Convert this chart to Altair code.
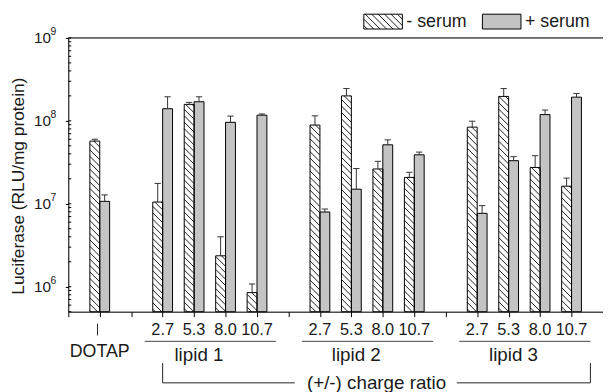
import math
import altair as alt
import pandas as pd

# ---------------- data ----------------
groups = ["DOTAP", "lipid 1", "lipid 2", "lipid 3"]
ratios = ["2.7", "5.3", "8.0", "10.7"]
minus_serum = [5.7e7, 1.05e7, 1.58e8, 2.36e6, 8.5e5, 8.9e7, 2.0e8, 2.63e7, 2.08e7, 8.4e7, 1.97e8, 2.74e7, 1.63e7]
minus_upper = [6.0e7, 1.76e7, 1.67e8, 4.0e6, 1.08e6, 1.15e8, 2.45e8, 3.25e7, 2.4e7, 9.9e7, 2.45e8, 3.8e7, 2.04e7]
plus_serum = [1.07e7, 1.40e8, 1.70e8, 9.6e7, 1.17e8, 7.96e6, 1.50e7, 5.14e7, 3.9e7, 7.67e6, 3.31e7, 1.19e8, 1.93e8]
plus_upper = [1.28e7, 1.95e8, 1.95e8, 1.14e8, 1.21e8, 8.65e6, 2.66e7, 5.9e7, 4.2e7, 9.5e6, 3.7e7, 1.35e8, 2.14e8]
series_names = ["- serum", "+ serum"]
decades = [6, 7, 8, 9]
y_title = "Luciferase (RLU/mg protein)"
x_title = "(+/-) charge ratio"

# ---------------- layout helpers ----------------
W, H = 541, 277
NX = 17
YMIN = 5e5
LMIN, LMAX = math.log10(YMIN), 9.0
OX, OY = 69, 36  # page position of plot origin
FONT = "Liberation Sans"
TXT = "#1a1a1a"
BW = 10 / (W / NX)  # bar width in slot units


def px_x(i):
    return OX + i * W / NX


def px_y(v):
    return OY + (LMAX - math.log10(v)) / (LMAX - LMIN) * H


def ix(px):
    return (px - OX) / W * NX


def yv(py):
    return 10 ** (LMAX - (py - OY) / H * (LMAX - LMIN))


def hatch(L, R, T, B, s=6.5):
    segs = []
    c = math.floor((T - R) / s) * s
    while c <= B - L:
        x1 = max(L, T - c)
        x2 = min(R, B - c)
        if x2 - x1 > 0.3:
            segs.append((ix(x1), yv(x1 + c), ix(x2), yv(x2 + c)))
        c += s
    return segs


# category positions: one empty slot between groups
idx, cat_lab, cat_grp = [], [], []
pos = 1
idx.append(pos); cat_lab.append(""); cat_grp.append(groups[0])
pos += 2
for g in groups[1:]:
    for r in ratios:
        idx.append(pos); cat_lab.append(r); cat_grp.append(g)
        pos += 1
    pos += 1

rows = []
for i, m, mu, p, pu in zip(idx, minus_serum, minus_upper, plus_serum, plus_upper):
    rows.append(dict(series=series_names[0], x0=i - BW, x1=i, xc=i - BW / 2, value=m, upper=mu))
    rows.append(dict(series=series_names[1], x0=i, x1=i + BW, xc=i + BW / 2, value=p, upper=pu))
bars = pd.DataFrame(rows)
bars["c0"] = bars["xc"] - 0.1
bars["c1"] = bars["xc"] + 0.1

hrows = []
for _, r in bars[bars.series == series_names[0]].iterrows():
    for s in hatch(px_x(r.x0), px_x(r.x1), px_y(r.value), px_y(YMIN)):
        hrows.append(dict(hx1=s[0], hy1=s[1], hx2=s[2], hy2=s[3]))
# legend boxes (page px)
leg_boxes = pd.DataFrame([
    dict(series=series_names[0], x0=ix(368), x1=ix(407), value=yv(12), base=yv(27), tx=ix(411)),
    dict(series=series_names[1], x0=ix(488), x1=ix(527), value=yv(12), base=yv(27), tx=ix(531)),
])
for s in hatch(368, 407, 12, 27):
    hrows.append(dict(hx1=s[0], hy1=s[1], hx2=s[2], hy2=s[3]))
hat = pd.DataFrame(hrows)

minor = []
for e in range(5, 9):
    for k in range(1, 10):
        v = k * 10 ** e
        if YMIN <= v <= 1e9:
            minor.append(v)
minor.append(1e9)
minor_df = pd.DataFrame({"value": minor})

xs = alt.Scale(domain=[0, NX], nice=False, zero=False)
ys = alt.Scale(type="log", domain=[YMIN, 1e9], nice=False)
xax = alt.Axis(values=list(range(NX + 1)), labels=False, tickSize=5, tickColor="black",
               domainColor="black", title=None, grid=False)
yax = alt.Axis(values=[10 ** d for d in decades], labelExpr="'10'", tickSize=3, tickColor="black",
               labelPadding=15, labelFontSize=15.5, labelColor=TXT, labelFont=FONT,
               domainColor="black", title=None, grid=False)


def X(f):
    return alt.X(f, type="quantitative", scale=xs, axis=xax)


def Y(f):
    return alt.Y(f, type="quantitative", scale=ys, axis=yax)


fill_scale = alt.Scale(domain=series_names, range=["white", "#c4c4c4"])

bar_fill = alt.Chart(bars).mark_rect(strokeWidth=0).encode(
    x=X("x0"), x2="x1", y=Y("value"), y2=alt.datum(YMIN),
    fill=alt.Fill("series:N", scale=fill_scale, legend=None))

leg_fill = alt.Chart(leg_boxes).mark_rect(strokeWidth=0).encode(
    x=X("x0"), x2="x1", y=Y("value"), y2="base",
    fill=alt.Fill("series:N", scale=fill_scale, legend=None))

hatch_layer = alt.Chart(hat).mark_rule(color="black", strokeWidth=0.9).encode(
    x=X("hx1"), x2="hx2", y=Y("hy1"), y2="hy2")

bar_outline = alt.Chart(bars).mark_rect(fillOpacity=0, stroke="black", strokeWidth=1).encode(
    x=X("x0"), x2="x1", y=Y("value"), y2=alt.datum(YMIN))

leg_outline = alt.Chart(leg_boxes).mark_rect(fillOpacity=0, stroke="black", strokeWidth=1).encode(
    x=X("x0"), x2="x1", y=Y("value"), y2="base")

err_line = alt.Chart(bars).mark_rule(color="#333", strokeWidth=1).encode(
    x=X("xc"), y=Y("value"), y2="upper")
err_cap = alt.Chart(bars).mark_rule(color="#333", strokeWidth=1).encode(
    x=X("c0"), x2="c1", y=Y("upper"))

minor_ticks = alt.Chart(minor_df).mark_rule(color="black", strokeWidth=1).encode(
    x=alt.value(0), x2=alt.value(3), y=Y("value"))

exp_df = pd.DataFrame({"value": [10 ** d for d in decades], "e": [str(d) for d in decades]})
exponents = alt.Chart(exp_df).mark_text(align="left", baseline="middle", dy=-5.5, fontSize=10.5,
                                        font=FONT, color=TXT).encode(
    x=alt.value(-18), y=Y("value"), text="e:N")

top_border = alt.Chart(pd.DataFrame({"a": [0]})).mark_rule(color="black", strokeWidth=1).encode(
    x=alt.value(0), x2=alt.value(W + 20), y=alt.value(0))

leg_text = alt.Chart(leg_boxes).mark_text(align="left", baseline="middle", fontSize=18,
                                          font=FONT, color=TXT).encode(
    x=X("tx"), y=alt.value(20 - OY), text="series:N")

# category tick labels
cat_df = pd.DataFrame({"idx": idx, "lab": cat_lab, "grp": cat_grp})
tick_labels = alt.Chart(cat_df).mark_text(baseline="alphabetic", fontSize=16.5, font=FONT,
                                          color=TXT).encode(
    x=X("idx"), y=alt.value(337 - OY), text="lab:N")

grp_df = cat_df.groupby("grp", sort=False)["idx"].mean().reset_index()
lipid_df = grp_df[grp_df.grp != groups[0]].copy()
lipid_df["l0"] = lipid_df["idx"] - 2.07
lipid_df["l1"] = lipid_df["idx"] + 2.1
dotap_df = grp_df[grp_df.grp == groups[0]].copy()
dotap_df["mk"] = dotap_df["idx"] - 0.07

underline = alt.Chart(lipid_df).mark_rule(color="#444", strokeWidth=1).encode(
    x=X("l0"), x2="l1", y=alt.value(343 - OY))
lipid_text = alt.Chart(lipid_df).mark_text(baseline="alphabetic", fontSize=19, dx=-11, font=FONT,
                                           color=TXT).encode(
    x=X("idx"), y=alt.value(362.5 - OY), text="grp:N")
dotap_text = alt.Chart(dotap_df).mark_text(baseline="alphabetic", fontSize=18, font=FONT,
                                           color=TXT).encode(
    x=X("idx"), y=alt.value(359 - OY), text="grp:N")
dotap_mark = alt.Chart(dotap_df).mark_rule(color="#222", strokeWidth=1).encode(
    x=X("mk"), y=alt.value(325 - OY), y2=alt.value(337 - OY))

# bracket
first_lipid = min(lipid_df["l0"])
last_lipid = max(lipid_df["l1"])
br_mid = (first_lipid + 0.57 + last_lipid) / 2
br_df = pd.DataFrame({
    "bx0": [first_lipid + 0.57, br_mid + 2.55],
    "bx1": [br_mid - 2.6, last_lipid],
})
bracket_h = alt.Chart(br_df).mark_rule(color="#222", strokeWidth=1).encode(
    x=X("bx0"), x2="bx1", y=alt.value(385 - OY))
brv_df = pd.DataFrame({"bx": [first_lipid + 0.57, last_lipid]})
bracket_v = alt.Chart(brv_df).mark_rule(color="#222", strokeWidth=1).encode(
    x=X("bx"), y=alt.value(365 - OY), y2=alt.value(385 - OY))
br_text = alt.Chart(pd.DataFrame({"bx": [br_mid], "t": [x_title]})).mark_text(
    baseline="alphabetic", fontSize=19, font=FONT, color=TXT).encode(
    x=X("bx"), y=alt.value(391 - OY), text="t:N")

ytitle = alt.Chart(pd.DataFrame({"t": [y_title]})).mark_text(
    angle=270, baseline="middle", align="center", fontSize=17.5, font=FONT, color=TXT).encode(
    x=alt.value(19.5 - OX), y=alt.value(186 - OY), text="t:N")

chart = alt.layer(
    bar_fill, leg_fill, hatch_layer, bar_outline, leg_outline, err_line, err_cap, minor_ticks,
    exponents, top_border, leg_text, tick_labels, underline, lipid_text, dotap_text, dotap_mark,
    bracket_h, bracket_v, br_text, ytitle,
).properties(
    width=W, height=H,
    autosize=alt.AutoSizeParams(type="none"),
    padding={"left": OX - 8, "top": OY - 8, "right": 0, "bottom": 80},
).configure_view(stroke=None).configure(background="white")

chart.save("out.html", embed_options={"renderer": "svg", "actions": False})
